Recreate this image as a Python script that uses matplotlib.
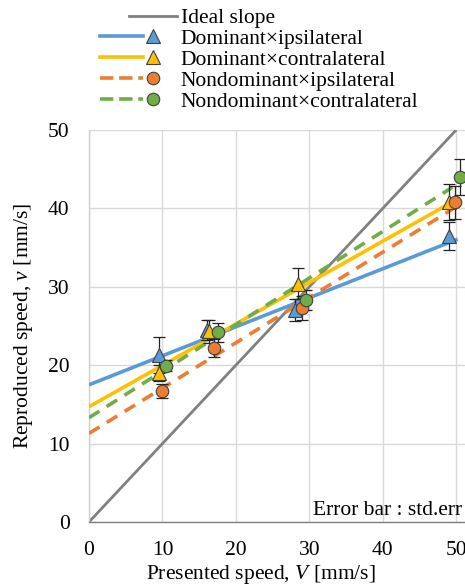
import numpy as np
import matplotlib
matplotlib.use("Agg")
import matplotlib.pyplot as plt
from matplotlib.lines import Line2D
from matplotlib.legend_handler import HandlerBase

plt.rcParams["font.family"] = ["Liberation Serif", "DejaVu Serif"]
plt.rcParams["mathtext.fontset"] = "custom"
plt.rcParams["mathtext.it"] = "Liberation Serif:italic"
plt.rcParams["mathtext.rm"] = "Liberation Serif"

# ---- data ----
labels = ["Dominant×ipsilateral", "Dominant×contralateral",
          "Nondominant×ipsilateral", "Nondominant×contralateral"]
speed_di = [9.5, 16.0, 28.0, 49.0]
rep_di   = [21.3, 24.5, 27.0, 36.5]
err_di   = [2.3, 1.3, 1.4, 1.8]
speed_dc = [9.5, 16.3, 28.5, 49.0]
rep_dc   = [19.0, 24.3, 30.4, 40.8]
err_dc   = [1.0, 1.5, 2.0, 2.3]
speed_ni = [10.0, 17.0, 29.0, 49.8]
rep_ni   = [16.7, 22.2, 27.3, 40.8]
err_ni   = [0.9, 1.1, 1.5, 2.1]
speed_nc = [10.5, 17.5, 29.5, 50.5]
rep_nc   = [19.9, 24.2, 28.3, 44.0]
err_nc   = [0.7, 1.2, 1.3, 2.3]

# fitted lines: intercept, slope, x end
fit_intercept = [17.5, 14.7, 11.3, 13.3]
fit_slope     = [0.37, 0.528, 0.578, 0.594]
fit_x_end     = [50.2, 48.7, 49.5, 49.5]
ideal_x = [0, 50]

speeds = [speed_di, speed_dc, speed_ni, speed_nc]
reps = [rep_di, rep_dc, rep_ni, rep_nc]
errs = [err_di, err_dc, err_ni, err_nc]

colors = ["#5B9BD5", "#FFC000", "#ED7D31", "#70AD47"]
markers = ["^", "^", "o", "o"]
dashes = [None, None, (3.4, 2.4), (3.4, 2.4)]
FS = 15.5


class LineThenMarker(HandlerBase):
    """Excel-like legend key: line segment followed by the marker."""
    def __init__(self, x0, x1, xm=None):
        super().__init__()
        self.x0, self.x1, self.xm = x0, x1, xm

    def create_artists(self, legend, orig, xdescent, ydescent, width, height,
                       fontsize, trans):
        y = height / 2 - ydescent
        ln = Line2D([self.x0 * width - xdescent, self.x1 * width - xdescent], [y, y],
                    color=orig.get_color(), lw=orig.get_linewidth(),
                    ls=orig.get_linestyle(), dash_capstyle="butt")
        ln.set_transform(trans)
        out = [ln]
        if self.xm is not None and orig.get_marker() not in (None, "None", ""):
            mk = Line2D([self.xm * width - xdescent], [y], ls="none",
                        marker=orig.get_marker(), ms=orig.get_markersize(),
                        mfc=orig.get_markerfacecolor(), mec=orig.get_markeredgecolor(),
                        mew=orig.get_markeredgewidth())
            mk.set_transform(trans)
            out.append(mk)
        return out


fig = plt.figure(figsize=(4.65, 5.86), dpi=100)
ax = fig.add_axes([89 / 465, 64 / 586, 1 - 89 / 465, 392 / 586])

ax.plot(ideal_x, ideal_x, color="#808080", lw=2.0, zorder=2, solid_capstyle="butt")

for i in range(4):
    xs = np.array([0, fit_x_end[i]])
    ys = fit_intercept[i] + fit_slope[i] * xs
    kw = dict(color=colors[i], lw=2.6, zorder=3, solid_capstyle="butt", dash_capstyle="butt")
    if dashes[i] is not None:
        kw["dashes"] = dashes[i]
    ax.plot(xs, ys, **kw)

for i in range(4):
    ax.errorbar(speeds[i], reps[i], yerr=errs[i], fmt="none", ecolor="#222222",
                elinewidth=0.9, capsize=4, capthick=0.9, zorder=4)
    ax.plot(speeds[i], reps[i], ls="none", marker=markers[i], ms=10 if markers[i] == "^" else 9,
            mfc=colors[i], mec="#404040", mew=0.8, zorder=5)

ax.set_xlim(0, 51.2)
ax.set_ylim(0, 50)
ax.set_xticks(range(0, 51, 10))
ax.set_yticks(range(0, 51, 10))
ax.grid(True, color="#D9D9D9", lw=1.0)
ax.set_axisbelow(True)
ax.tick_params(length=0, labelsize=FS, pad=14)
for s in ["top", "right"]:
    ax.spines[s].set_visible(False)
ax.spines["left"].set_color("#D0D0D0")
ax.spines["bottom"].set_color("#7F7F7F")
ax.spines["left"].set_linewidth(1.0)
ax.spines["bottom"].set_linewidth(1.0)

ax.set_xlabel("Presented speed, $\\mathit{V}$ [mm/s]", fontsize=FS)
ax.xaxis.set_label_coords((261 - 89) / (465 - 89), -0.105)
ax.set_ylabel("Reproduced speed, $\\mathit{v}$ [mm/s]", fontsize=FS, labelpad=9)
ax.text(30.5, 1.5, "Error bar : std.err", fontsize=FS, ha="left", va="center",
        clip_on=False)

# legend
handles = [Line2D([], [], color="#808080", lw=2.0)]
hmap = {handles[0]: LineThenMarker(0.38, 1.0)}
for i in range(4):
    h = Line2D([], [], color=colors[i], lw=2.6, ls="-" if dashes[i] is None else "--",
               marker=markers[i], ms=10 if markers[i] == "^" else 9,
               mfc=colors[i], mec="#404040", mew=0.8)
    handles.append(h)
    hmap[h] = LineThenMarker(0.0, 0.56, 0.69)
leg = fig.legend(handles, ["Ideal slope"] + labels, loc="upper left",
                 bbox_to_anchor=(100 / 465, 1 - 8 / 586), frameon=False,
                 fontsize=FS, handlelength=77 / (FS * 100 / 72), handletextpad=0.18,
                 labelspacing=0.04, borderpad=0, borderaxespad=0, handler_map=hmap)

fig.savefig("out.png", dpi=100)
